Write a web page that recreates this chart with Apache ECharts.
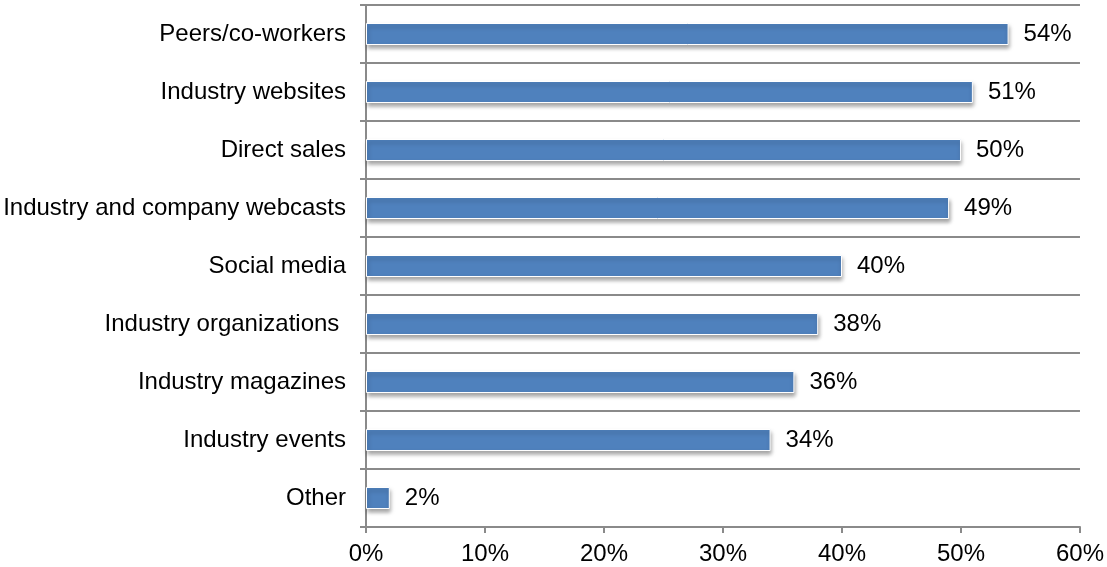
<!DOCTYPE html>
<html>
<head>
<meta charset="utf-8">
<script src="https://cdn.jsdelivr.net/npm/echarts@6/dist/echarts.min.js"></script>
<style>html,body{margin:0;padding:0;background:#fff}#c{width:1107px;height:567px}</style>
</head>
<body>
<div id="c"></div>
<script>
const categories = ["Peers/co-workers", "Industry websites", "Direct sales", "Industry and company webcasts", "Social media", "Industry organizations ", "Industry magazines", "Industry events", "Other"];
const values = [54, 51, 50, 49, 40, 38, 36, 34, 2];
const xTicks = [0, 10, 20, 30, 40, 50, 60];

const chart = echarts.init(document.getElementById('c'));
const FONT = 'Liberation Sans, Arial, sans-serif';
chart.setOption({
  animation: false,
  grid: { left: 366, right: 20, top: 5, bottom: 40, containLabel: false },
  xAxis: {
    type: 'value', min: xTicks[0], max: xTicks[xTicks.length - 1], interval: 10,
    axisLine: { show: true, lineStyle: { color: '#8a8a8a', width: 2 } },
    axisTick: { show: true, length: 6, lineStyle: { color: '#8a8a8a', width: 2 } },
    splitLine: { show: false },
    axisLabel: { formatter: '{value}%', color: '#000', fontSize: 24, fontFamily: FONT, margin: 15 }
  },
  yAxis: {
    type: 'category', data: categories, inverse: true,
    axisLine: { show: true, lineStyle: { color: '#8a8a8a', width: 2 } },
    axisTick: { show: true, length: 6, lineStyle: { color: '#8a8a8a', width: 2 } },
    splitLine: { show: true, lineStyle: { color: '#8a8a8a', width: 2 } },
    axisLabel: { color: '#000', fontSize: 24, fontFamily: FONT, margin: 20 }
  },
  series: [{
    type: 'bar', data: values, barWidth: 22,
    itemStyle: { color: '#4F81BD', borderColor: '#fff', borderWidth: 1, shadowColor: 'rgba(0,0,0,0.35)', shadowBlur: 4, shadowOffsetX: 1, shadowOffsetY: 3 },
    label: { show: true, position: 'right', distance: 15, formatter: '{c}%', color: '#000', fontSize: 24, fontFamily: FONT }
  }]
});
</script>
</body>
</html>
